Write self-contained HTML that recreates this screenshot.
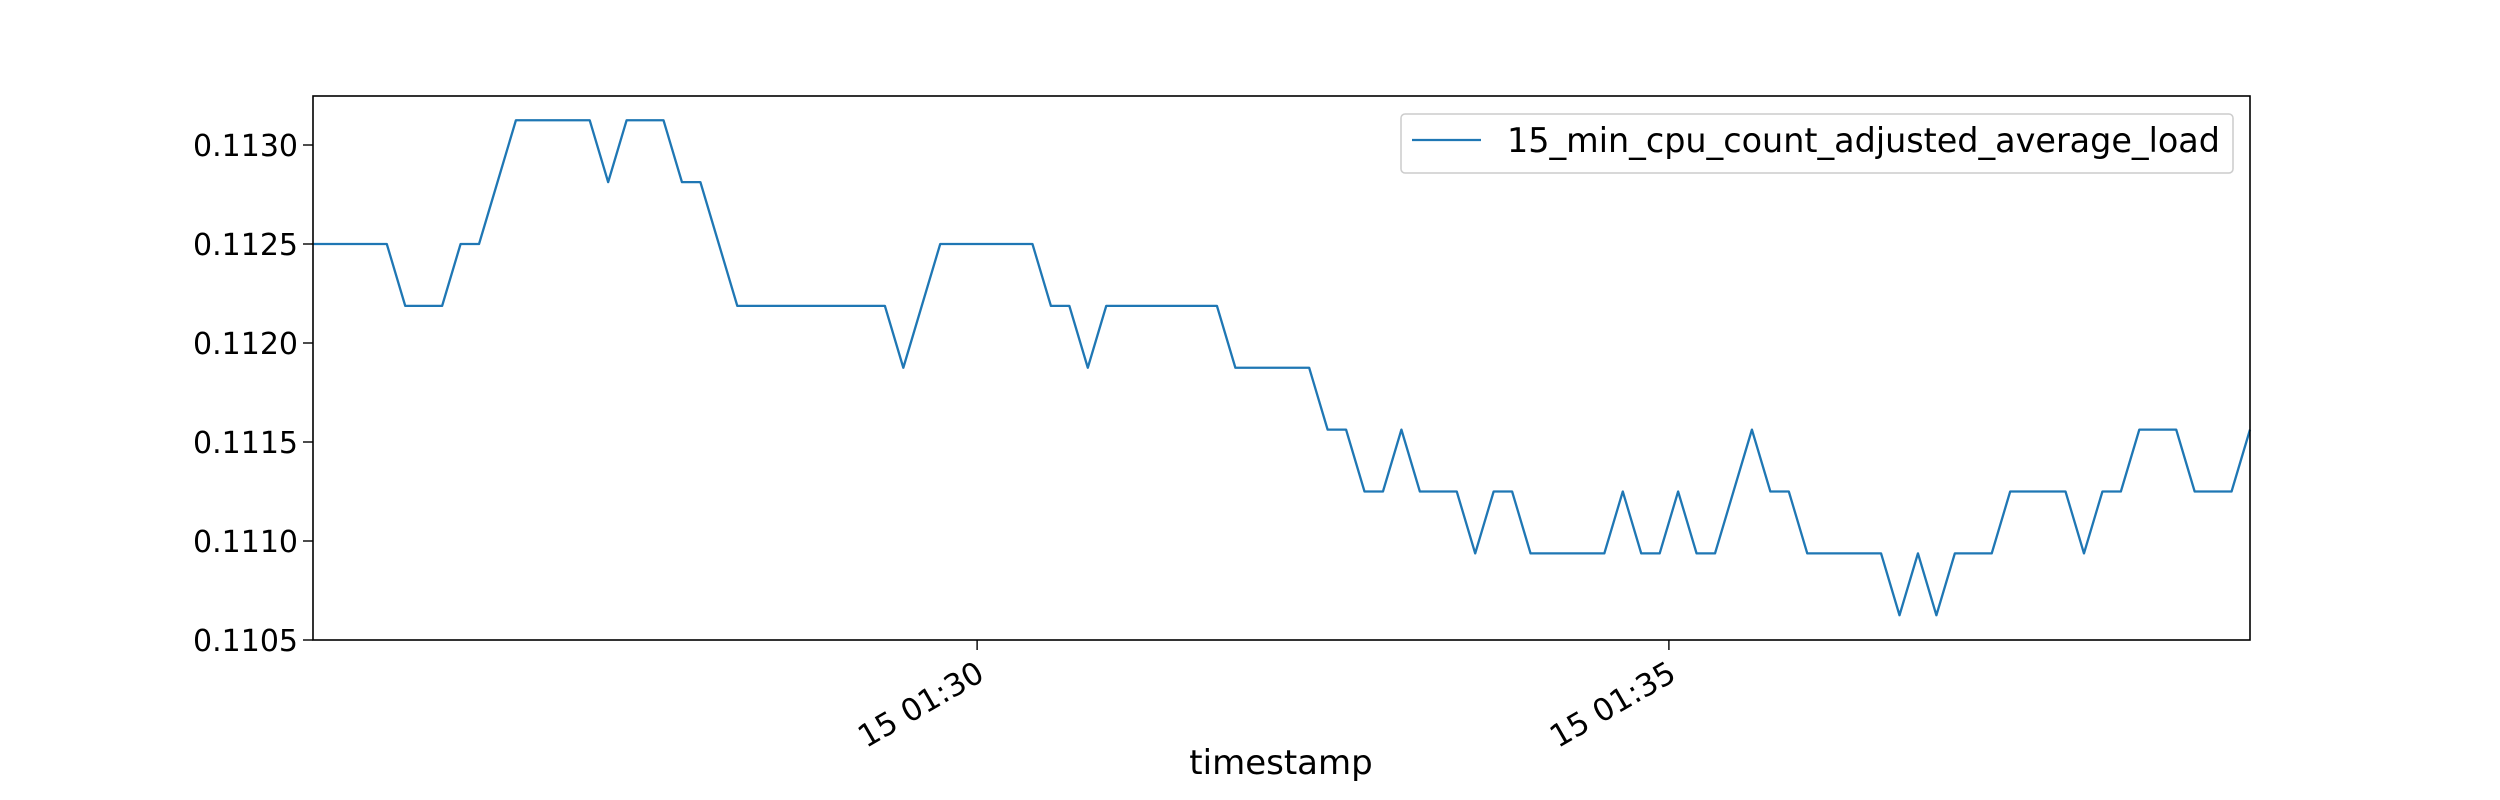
<!DOCTYPE html>
<html><head><meta charset="utf-8"><style>
html,body{margin:0;padding:0;background:#fff;}
svg{display:block;font-family:"DejaVu Sans","Liberation Sans",sans-serif;}
</style></head><body>
<svg id="chart" width="2500" height="800" viewBox="0 0 2500 800" xmlns="http://www.w3.org/2000/svg">
<rect width="2500" height="800" fill="#fff"/>
<path id="series" fill="none" stroke="#1f77b4" stroke-width="2.3" stroke-linejoin="round"/>
<rect x="313" y="96" width="1937" height="544" fill="none" stroke="#000" stroke-width="1.6"/>
<g id="yaxis"></g>
<g id="xaxis"></g>
<text x="1281" y="774" font-size="34" text-anchor="middle">timestamp</text>
<g>
<rect x="1401" y="114" width="832" height="59" rx="4" fill="#fff" fill-opacity="0.8" stroke="#ccc" stroke-width="1.5"/>
<line x1="1412" y1="140" x2="1481" y2="140" stroke="#1f77b4" stroke-width="2.3"/>
<text x="1507" y="152" font-size="33.4">15_min_cpu_count_adjusted_average_load</text>
</g>
</svg>
<script>
// values in units of 1/3200 (load = level/3200), sampled every 8 s
const levels = [360,360,360,360,360,359,359,359,360,360,361,362,362,362,362,362,361,362,362,362,361,361,360,359,359,359,359,359,359,359,359,359,358,359,360,360,360,360,360,360,359,359,358,359,359,359,359,359,359,359,358,358,358,358,358,357,357,356,356,357,356,356,356,355,356,356,355,355,355,355,355,356,355,355,356,355,355,356,357,356,356,355,355,355,355,355,354,355,354,355,355,355,356,356,356,356,355,356,356,357,357,357,356,356,356,357];
const startSec = 12;     // seconds after 01:25:00
const stepSec = 8;
const yTicks = [0.1105,0.1110,0.1115,0.1120,0.1125,0.1130];
const yTickLabels = ["0.1105","0.1110","0.1115","0.1120","0.1125","0.1130"];
const xTickSecs = [300,600];
const xTickLabels = ["15 01:30","15 01:35"];

const L=313,R=2250,T=96,B=640;
const yMin=0.1105, yMax=0.1105+(544/99)*0.0005;
const xMin=startSec, xMax=startSec+stepSec*(levels.length-1);
const xs=s=>L+(s-xMin)/(xMax-xMin)*(R-L);
const ys=v=>B-(v-yMin)/(yMax-yMin)*(B-T);
const NS="http://www.w3.org/2000/svg";

let d="";
levels.forEach((lv,i)=>{d+=(i?"L":"M")+xs(startSec+i*stepSec).toFixed(2)+","+ys(lv/3200).toFixed(2);});
document.getElementById("series").setAttribute("d",d);

const ya=document.getElementById("yaxis");
yTicks.forEach((v,i)=>{
  const y=ys(v);
  const t=document.createElementNS(NS,"line");
  
  
  t.setAttribute("x1",L-10);t.setAttribute("x2",L);t.setAttribute("y1",y);t.setAttribute("y2",y);t.setAttribute("stroke","#000");t.setAttribute("stroke-width","1.4");
  ya.appendChild(t);
  const tx=document.createElementNS(NS,"text");
  
  
  tx.setAttribute("x",L-15);tx.setAttribute("y",y+11);tx.setAttribute("font-size","30");tx.setAttribute("text-anchor","end");
  tx.textContent=yTickLabels[i];
  ya.appendChild(tx);
});
const xa=document.getElementById("xaxis");
xTickSecs.forEach((s,i)=>{
  const x=xs(s);
  const t=document.createElementNS(NS,"line");
  
  
  t.setAttribute("x1",x);t.setAttribute("x2",x);t.setAttribute("y1",B);t.setAttribute("y2",B+10);t.setAttribute("stroke","#000");t.setAttribute("stroke-width","1.4");
  xa.appendChild(t);
  const tx=document.createElementNS(NS,"text");
  
  
  tx.setAttribute("font-size","31");tx.setAttribute("text-anchor","end");
  tx.setAttribute("transform","translate("+(x-2)+","+(B+20)+") rotate(-30) translate(0,22)");
  tx.textContent=xTickLabels[i];
  xa.appendChild(tx);
});
</script>
</body></html>
